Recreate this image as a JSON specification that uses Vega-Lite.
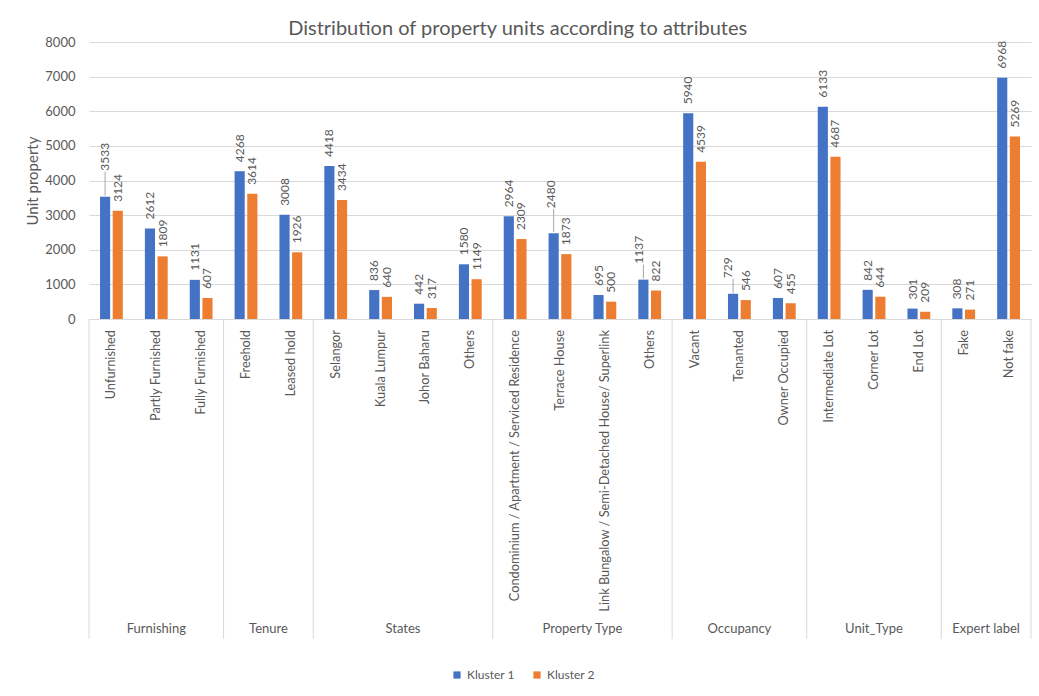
{
  "$schema": "https://vega.github.io/schema/vega-lite/v6.json",
  "background": "white",
  "padding": {"left": 25, "top": 19, "right": 8, "bottom": 4},
  "title": {
    "text": "Distribution of property units according to attributes",
    "fontSize": 20,
    "fontWeight": "normal",
    "color": "#595959",
    "anchor": "middle",
    "offset": -3,
    "dx": -11
  },
  "datasets": {
    "counts": [
      {"group": "Furnishing", "label": "Unfurnished", "series": "Kluster 1", "units": 3533},
      {"group": "Furnishing", "label": "Unfurnished", "series": "Kluster 2", "units": 3124},
      {"group": "Furnishing", "label": "Partly Furnished", "series": "Kluster 1", "units": 2612},
      {"group": "Furnishing", "label": "Partly Furnished", "series": "Kluster 2", "units": 1809},
      {"group": "Furnishing", "label": "Fully Furnished", "series": "Kluster 1", "units": 1131},
      {"group": "Furnishing", "label": "Fully Furnished", "series": "Kluster 2", "units": 607},
      {"group": "Tenure", "label": "Freehold", "series": "Kluster 1", "units": 4268},
      {"group": "Tenure", "label": "Freehold", "series": "Kluster 2", "units": 3614},
      {"group": "Tenure", "label": "Leased hold", "series": "Kluster 1", "units": 3008},
      {"group": "Tenure", "label": "Leased hold", "series": "Kluster 2", "units": 1926},
      {"group": "States", "label": "Selangor", "series": "Kluster 1", "units": 4418},
      {"group": "States", "label": "Selangor", "series": "Kluster 2", "units": 3434},
      {"group": "States", "label": "Kuala Lumpur", "series": "Kluster 1", "units": 836},
      {"group": "States", "label": "Kuala Lumpur", "series": "Kluster 2", "units": 640},
      {"group": "States", "label": "Johor Baharu", "series": "Kluster 1", "units": 442},
      {"group": "States", "label": "Johor Baharu", "series": "Kluster 2", "units": 317},
      {"group": "States", "label": "Others", "series": "Kluster 1", "units": 1580},
      {"group": "States", "label": "Others", "series": "Kluster 2", "units": 1149},
      {"group": "Property Type", "label": "Condominium / Apartment /  Serviced Residence", "series": "Kluster 1", "units": 2964},
      {"group": "Property Type", "label": "Condominium / Apartment /  Serviced Residence", "series": "Kluster 2", "units": 2309},
      {"group": "Property Type", "label": "Terrace House", "series": "Kluster 1", "units": 2480},
      {"group": "Property Type", "label": "Terrace House", "series": "Kluster 2", "units": 1873},
      {"group": "Property Type", "label": "Link Bungalow / Semi-Detached House/ Superlink", "series": "Kluster 1", "units": 695},
      {"group": "Property Type", "label": "Link Bungalow / Semi-Detached House/ Superlink", "series": "Kluster 2", "units": 500},
      {"group": "Property Type", "label": "Others", "series": "Kluster 1", "units": 1137},
      {"group": "Property Type", "label": "Others", "series": "Kluster 2", "units": 822},
      {"group": "Occupancy", "label": "Vacant", "series": "Kluster 1", "units": 5940},
      {"group": "Occupancy", "label": "Vacant", "series": "Kluster 2", "units": 4539},
      {"group": "Occupancy", "label": "Tenanted", "series": "Kluster 1", "units": 729},
      {"group": "Occupancy", "label": "Tenanted", "series": "Kluster 2", "units": 546},
      {"group": "Occupancy", "label": "Owner Occupied", "series": "Kluster 1", "units": 607},
      {"group": "Occupancy", "label": "Owner Occupied", "series": "Kluster 2", "units": 455},
      {"group": "Unit_Type", "label": "Intermediate Lot", "series": "Kluster 1", "units": 6133},
      {"group": "Unit_Type", "label": "Intermediate Lot", "series": "Kluster 2", "units": 4687},
      {"group": "Unit_Type", "label": "Corner Lot", "series": "Kluster 1", "units": 842},
      {"group": "Unit_Type", "label": "Corner Lot", "series": "Kluster 2", "units": 644},
      {"group": "Unit_Type", "label": "End Lot", "series": "Kluster 1", "units": 301},
      {"group": "Unit_Type", "label": "End Lot", "series": "Kluster 2", "units": 209},
      {"group": "Expert label", "label": "Fake", "series": "Kluster 1", "units": 308},
      {"group": "Expert label", "label": "Fake", "series": "Kluster 2", "units": 271},
      {"group": "Expert label", "label": "Not fake", "series": "Kluster 1", "units": 6968},
      {"group": "Expert label", "label": "Not fake", "series": "Kluster 2", "units": 5269}
    ],
    "groups": [
      {"group": "Furnishing", "first": "Unfurnished", "mid": "Partly Furnished", "odd": true},
      {"group": "Tenure", "first": "Freehold", "mid": "Leased hold", "odd": false},
      {"group": "States", "first": "Selangor", "mid": "Johor Baharu", "odd": false},
      {"group": "Property Type", "first": "Condominium / Apartment /  Serviced Residence", "mid": "Link Bungalow / Semi-Detached House/ Superlink", "odd": false},
      {"group": "Occupancy", "first": "Vacant", "mid": "Tenanted", "odd": true},
      {"group": "Unit_Type", "first": "Intermediate Lot", "mid": "Corner Lot", "odd": true},
      {"group": "Expert label", "first": "Fake", "mid": "Not fake", "odd": false}
    ]
  },
  "bounds": "flush",
  "spacing": 0,
  "resolve": {
    "scale": {"x": "shared", "y": "independent", "color": "shared"},
    "legend": {"color": "shared"}
  },
  "vconcat": [
    {
      "width": 942,
      "height": 277,
      "data": {"name": "counts"},
      "transform": [{"calculate": "datum.group + ': ' + datum.label", "as": "key"}],
      "encoding": {
        "x": {
          "field": "key",
          "type": "nominal",
          "scale": {
            "domain": [
              "Furnishing: Unfurnished", "Furnishing: Partly Furnished", "Furnishing: Fully Furnished",
              "Tenure: Freehold", "Tenure: Leased hold",
              "States: Selangor", "States: Kuala Lumpur", "States: Johor Baharu", "States: Others",
              "Property Type: Condominium / Apartment /  Serviced Residence", "Property Type: Terrace House",
              "Property Type: Link Bungalow / Semi-Detached House/ Superlink", "Property Type: Others",
              "Occupancy: Vacant", "Occupancy: Tenanted", "Occupancy: Owner Occupied",
              "Unit_Type: Intermediate Lot", "Unit_Type: Corner Lot", "Unit_Type: End Lot",
              "Expert label: Fake", "Expert label: Not fake"
            ],
            "paddingInner": 0,
            "paddingOuter": 0
          },
          "axis": null
        },
        "xOffset": {
          "field": "series",
          "type": "nominal",
          "scale": {"paddingInner": 0.2, "paddingOuter": 0.87}
        },
        "y": {
          "field": "units",
          "type": "quantitative",
          "scale": {"domain": [0, 8000], "nice": false},
          "axis": {
            "values": [0, 1000, 2000, 3000, 4000, 5000, 6000, 7000, 8000],
            "format": "d",
            "domain": false,
            "ticks": false,
            "grid": true,
            "gridColor": "#D9D9D9",
            "labelFontSize": 13,
            "labelColor": "#595959",
            "labelPadding": 14,
            "title": "Unit property",
            "titleFontSize": 15,
            "titleFontWeight": "normal",
            "titleColor": "#595959",
            "titlePadding": 4
          }
        }
      },
      "layer": [
        {
          "mark": {"type": "bar"},
          "encoding": {
            "color": {
              "field": "series",
              "type": "nominal",
              "scale": {"domain": ["Kluster 1", "Kluster 2"], "range": ["#4472C4", "#ED7D31"]},
              "legend": {
                "title": null,
                "orient": "none",
                "legendX": 362,
                "legendY": 627,
                "direction": "horizontal",
                "symbolType": "square",
                "symbolSize": 52,
                "symbolStrokeWidth": 0,
                "labelFontSize": 12,
                "labelColor": "#595959",
                "labelOffset": 4,
                "columnPadding": 16
              }
            }
          }
        },
        {
          "transform": [{"filter": "!(datum.series === 'Kluster 1' && indexof(['Furnishing: Unfurnished', 'Property Type: Terrace House', 'Property Type: Others', 'Occupancy: Tenanted'], datum.key) >= 0)"}],
          "mark": {"type": "text", "angle": 270, "align": "left", "baseline": "middle", "dx": 9, "fontSize": 12, "color": "#595959"},
          "encoding": {"text": {"field": "units", "type": "quantitative"}}
        },
        {
          "transform": [{"filter": "datum.series === 'Kluster 1' && datum.key === 'Furnishing: Unfurnished'"}],
          "mark": {"type": "text", "angle": 270, "align": "left", "baseline": "middle", "dx": 26, "dy": 0, "fontSize": 12, "color": "#595959"},
          "encoding": {"text": {"field": "units", "type": "quantitative"}}
        },
        {
          "transform": [{"filter": "datum.series === 'Kluster 1' && datum.key === 'Property Type: Terrace House'"}],
          "mark": {"type": "text", "angle": 270, "align": "left", "baseline": "middle", "dx": 25, "dy": -3, "fontSize": 12, "color": "#595959"},
          "encoding": {"text": {"field": "units", "type": "quantitative"}}
        },
        {
          "transform": [{"filter": "datum.series === 'Kluster 1' && datum.key === 'Property Type: Others'"}],
          "mark": {"type": "text", "angle": 270, "align": "left", "baseline": "middle", "dx": 16, "dy": -4, "fontSize": 12, "color": "#595959"},
          "encoding": {"text": {"field": "units", "type": "quantitative"}}
        },
        {
          "transform": [{"filter": "datum.series === 'Kluster 1' && datum.key === 'Occupancy: Tenanted'"}],
          "mark": {"type": "text", "angle": 270, "align": "left", "baseline": "middle", "dx": 15.5, "dy": -5.5, "fontSize": 12, "color": "#595959"},
          "encoding": {"text": {"field": "units", "type": "quantitative"}}
        },
        {
          "transform": [{"filter": "datum.series === 'Kluster 1' && datum.key === 'Furnishing: Unfurnished'"}],
          "mark": {"type": "rule", "color": "#A6A6A6", "strokeWidth": 1, "yOffset": -1, "y2Offset": -25},
          "encoding": {"y2": {"field": "units"}}
        },
        {
          "transform": [{"filter": "datum.series === 'Kluster 1' && datum.key === 'Property Type: Terrace House'"}],
          "mark": {"type": "rule", "color": "#A6A6A6", "strokeWidth": 1, "yOffset": -1, "y2Offset": -24},
          "encoding": {"y2": {"field": "units"}}
        },
        {
          "transform": [{"filter": "datum.series === 'Kluster 1' && (datum.key === 'Property Type: Others' || datum.key === 'Occupancy: Tenanted')"}],
          "mark": {"type": "rule", "color": "#A6A6A6", "strokeWidth": 1, "yOffset": -1, "y2Offset": -15},
          "encoding": {"y2": {"field": "units"}}
        }
      ]
    },
    {
      "width": 942,
      "height": 320,
      "layer": [
        {
          "data": {"name": "counts"},
          "transform": [
            {"filter": "datum.series === 'Kluster 1'"},
            {"calculate": "datum.group + ': ' + datum.label", "as": "key"}
          ],
          "mark": {"type": "text", "angle": 270, "align": "right", "baseline": "middle", "dx": -11, "fontSize": 12.8, "color": "#595959"},
          "encoding": {
            "x": {"field": "key", "type": "nominal", "axis": null},
            "y": {"datum": 1, "type": "quantitative", "scale": {"domain": [0, 1]}, "axis": null},
            "text": {"field": "label", "type": "nominal"}
          }
        },
        {
          "data": {"name": "groups"},
          "transform": [{"calculate": "datum.group + ': ' + datum.first", "as": "key"}],
          "mark": {"type": "rule", "color": "#D9D9D9", "strokeWidth": 1},
          "encoding": {
            "x": {"field": "key", "type": "nominal", "bandPosition": 0, "axis": null}
          }
        },
        {
          "data": {"values": [{"edge": "Expert label: Not fake"}]},
          "mark": {"type": "rule", "color": "#D9D9D9", "strokeWidth": 1},
          "encoding": {
            "x": {"field": "edge", "type": "nominal", "bandPosition": 1, "axis": null}
          }
        },
        {
          "data": {"name": "groups"},
          "transform": [
            {"filter": "datum.odd"},
            {"calculate": "datum.group + ': ' + datum.mid", "as": "key"}
          ],
          "mark": {"type": "text", "align": "center", "baseline": "alphabetic", "dy": -6, "fontSize": 13, "color": "#595959"},
          "encoding": {
            "x": {"field": "key", "type": "nominal", "bandPosition": 0.5, "axis": null},
            "y": {"datum": 0, "type": "quantitative", "scale": {"domain": [0, 1]}, "axis": null},
            "text": {"field": "group", "type": "nominal"}
          }
        },
        {
          "data": {"name": "groups"},
          "transform": [
            {"filter": "!datum.odd"},
            {"calculate": "datum.group + ': ' + datum.mid", "as": "key"}
          ],
          "mark": {"type": "text", "align": "center", "baseline": "alphabetic", "dy": -6, "fontSize": 13, "color": "#595959"},
          "encoding": {
            "x": {"field": "key", "type": "nominal", "bandPosition": 0, "axis": null},
            "y": {"datum": 0, "type": "quantitative", "scale": {"domain": [0, 1]}, "axis": null},
            "text": {"field": "group", "type": "nominal"}
          }
        }
      ]
    }
  ],
  "config": {
    "font": "Lato",
    "view": {"stroke": null}
  }
}
